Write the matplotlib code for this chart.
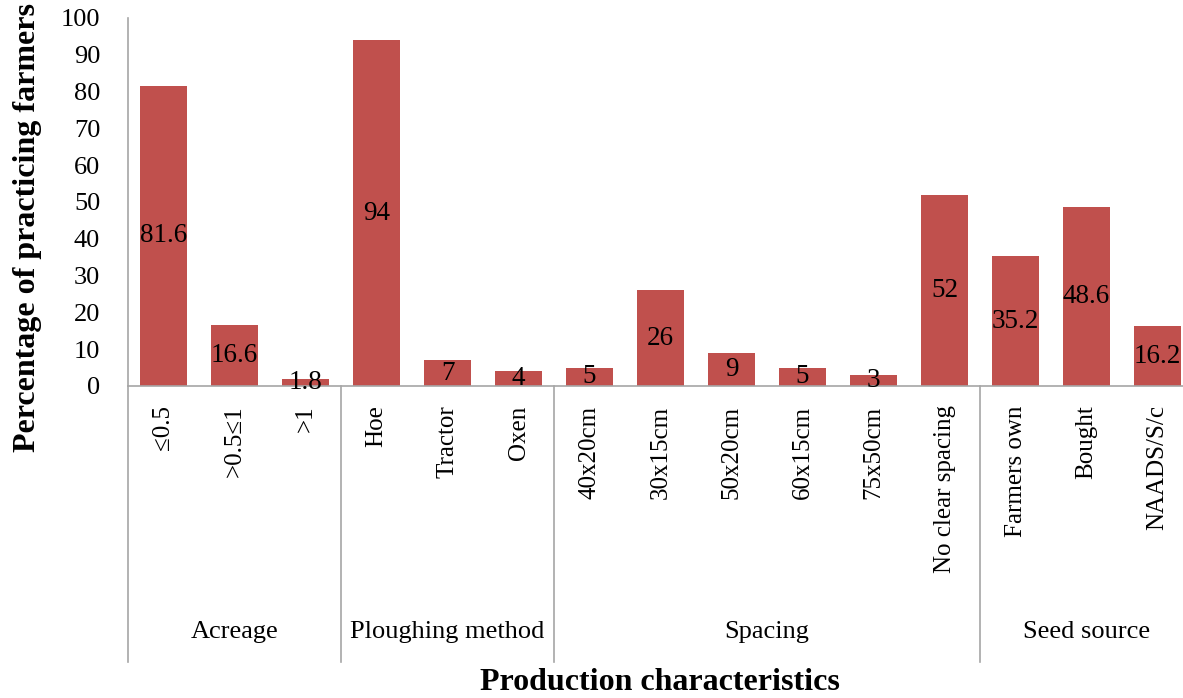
import numpy as np
import matplotlib
matplotlib.use('Agg')
import matplotlib.pyplot as plt
import matplotlib.transforms as mtransforms

plt.rcParams['font.family'] = 'Liberation Serif'

##### DATA #####
categories = ['\u22640.5', '>0.5\u22641', '>1',
              'Hoe', 'Tractor', 'Oxen',
              '40x20cm', '30x15cm', '50x20cm', '60x15cm', '75x50cm', 'No clear spacing',
              'Farmers own', 'Bought', 'NAADS/S/c']
values = [81.6, 16.6, 1.8,
          94, 7, 4,
          5, 26, 9, 5, 3, 52,
          35.2, 48.6, 16.2]
groups = ['Acreage', 'Ploughing method', 'Spacing', 'Seed source']
group_sizes = [3, 3, 6, 3]

bar_color = '#C0504D'
line_color = '#A6A6A6'

##### PLOT #####
fig = plt.figure(figsize=(11.83, 6.98), dpi=100)
ax = fig.add_axes([128/1183., 1-386/698., 1065/1183., 368/698.])

x = np.arange(len(values))
bars = ax.bar(x, values, width=0.65, color=bar_color, zorder=2)

# value labels sit in the middle of each bar
for xi, v in zip(x, values):
    ax.text(xi, v/2., '%g' % v, ha='center', va='center', fontsize=19.5, color='black', zorder=3)

ax.set_xlim(-0.5, len(values)-0.5)
ax.set_ylim(0, 100)
ax.set_yticks(np.arange(0, 101, 10))
ax.tick_params(axis='y', labelsize=19, length=0, pad=20)
ax.set_xticks(x)
ax.set_xticklabels(categories, rotation=90, fontsize=18, va='top', ha='center')
ax.tick_params(axis='x', length=0, pad=14)

for s in ['top', 'right']:
    ax.spines[s].set_visible(False)
for s in ['left', 'bottom']:
    ax.spines[s].set_color(line_color)
    ax.spines[s].set_linewidth(1.2)

# group separators and group names under the tick labels
trans = mtransforms.blended_transform_factory(ax.transData, ax.transAxes)
edges = np.concatenate([[0], np.cumsum(group_sizes)]) - 0.5
for e in edges:
    ax.plot([e, e], [0, -0.75], color=line_color, lw=1.2, transform=trans, clip_on=False)
for name, lo, hi in zip(groups, edges[:-1], edges[1:]):
    ax.text((lo+hi)/2., -0.668, name, ha='center', va='center', fontsize=19, transform=trans)

fig.text(660/1183., 1-683/698., 'Production characteristics', ha='center', va='center',
         fontsize=23, fontweight='bold')
fig.text(28/1183., 1-228/698., 'Percentage of practicing farmers', ha='center', va='center',
         rotation=90, fontsize=23, fontweight='bold')

plt.savefig('out.png', dpi=100)
